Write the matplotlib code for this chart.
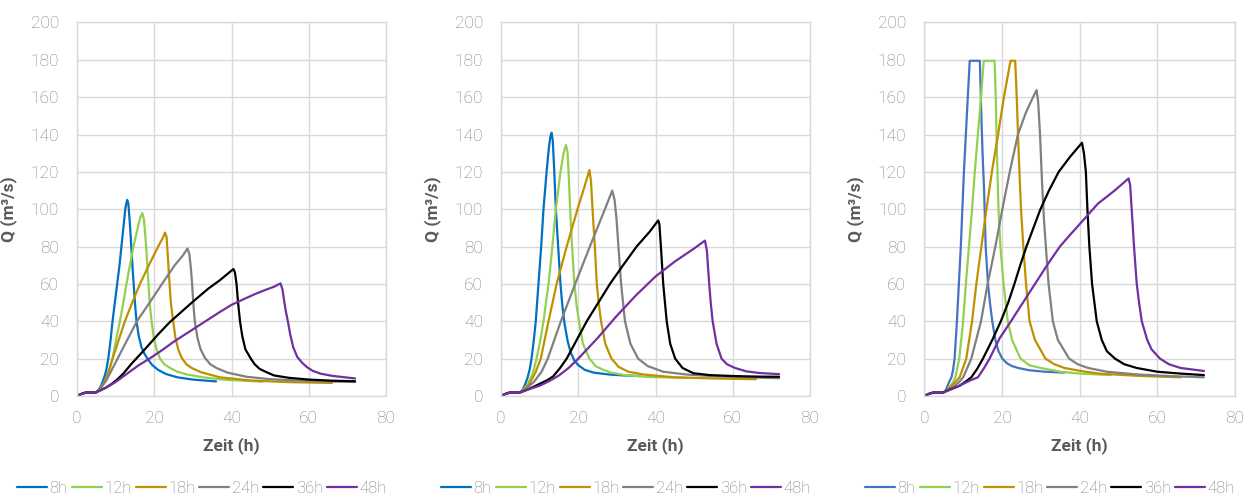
import matplotlib
matplotlib.use("Agg")
import matplotlib.pyplot as plt

# ---------------- data ----------------
series_names = ["8h", "12h", "18h", "24h", "36h", "48h"]
x_ticks = [0, 20, 40, 60, 80]
y_ticks = [0, 20, 40, 60, 80, 100, 120, 140, 160, 180, 200]

# Panel 1
p1_t_8h = [0, 1, 2.2, 4.8, 5.5, 6.2, 6.7, 7.2, 7.6, 8.1, 8.7, 9.2, 9.8, 10.4, 11.0, 11.5, 12.0, 12.5, 12.8, 13.0, 13.3, 13.7, 14.05, 14.5, 15.0, 15.4, 16.0, 16.7, 17.5, 18.4, 19.5, 21, 23, 26, 30, 36]
p1_q_8h = [0, 1, 1.8, 1.8, 3, 5.5, 8, 11, 14, 20, 30, 40, 50, 60, 70, 80, 90, 100, 103.5, 105, 103, 92, 80, 65, 50, 40, 32, 26, 22.5, 19.5, 16.5, 14, 11.8, 10, 8.8, 7.8]
p1_t_12h = [0, 1, 2.2, 4.8, 5.8, 6.7, 7.7, 8.5, 9.2, 10.1, 11.1, 12.0, 12.8, 13.7, 14.6, 15.5, 16.3, 16.9, 17.3, 17.6, 17.9, 18.2, 18.5, 18.9, 19.3, 19.9, 20.6, 21.5, 22.6, 24.1, 26, 28.5, 32.7, 38, 48]
p1_q_12h = [0, 1, 1.8, 1.8, 3.5, 6, 10, 15, 20, 30, 40, 50, 60, 70, 80, 88, 95, 98, 95, 88, 80, 70, 60, 48, 40, 31, 25, 20, 17, 15, 13, 11.5, 10, 8.7, 7.7]
p1_t_18h = [0, 1, 2.2, 4.8, 5.8, 7, 8.2, 9.2, 10.8, 12.4, 14.3, 16.3, 18.6, 21.0, 22.3, 22.8, 23.2, 23.6, 23.9, 24.3, 24.9, 25.5, 26.2, 27.1, 28.3, 29.7, 32, 37, 45, 55, 66]
p1_q_18h = [0, 1, 1.8, 1.8, 3.5, 7, 13, 20, 30, 40, 50, 60, 70, 80, 85, 87.5, 85, 72, 62, 50, 40, 31, 25, 20.5, 17, 15, 12.8, 10, 8.3, 7.4, 7]
p1_t_24h = [0, 1, 2.2, 4.8, 6, 7.5, 9, 10.5, 13, 15.5, 18.8, 22, 25.3, 27.5, 28.6, 29.1, 29.5, 29.8, 30.1, 30.5, 31.2, 32.0, 33.1, 34.5, 36.1, 39, 43.9, 50, 60, 72]
p1_q_24h = [0, 1, 1.8, 1.8, 4, 8, 14, 20, 30, 40, 50, 60, 70, 75.5, 79, 76, 68, 60, 50, 40, 31, 25, 20.5, 17, 15, 12.5, 10.3, 9, 8, 7.5]
p1_t_36h = [0, 1, 2.2, 4.8, 6, 7.5, 9, 10.5, 12, 14, 16, 18, 21, 24, 27, 30, 34, 37, 40.5, 40.9, 41.3, 41.7, 42.2, 42.8, 43.6, 45.0, 46.0, 47.3, 48.8, 51, 55, 60, 66, 72]
p1_q_36h = [0, 1, 1.8, 1.8, 3, 4.5, 6.5, 9, 12, 17, 21.5, 26, 33, 39.5, 45, 50.5, 57.5, 62, 68, 66, 60, 50, 40, 32, 25, 20, 17, 14.5, 13, 11, 9.7, 8.8, 8.2, 7.9]
p1_t_48h = [0, 1, 2.2, 4.8, 6, 8, 10, 12, 14, 16, 18.9, 22, 25, 28, 31, 34, 37, 40, 43, 46, 49, 51, 52.7, 53.2, 53.7, 54.1, 54.6, 55.2, 56, 57, 58.2, 59.5, 61, 63, 66, 72]
p1_q_48h = [0, 1, 1.8, 1.8, 3, 5, 7.5, 10.5, 13.5, 16.5, 20.2, 24.5, 29, 33, 37, 41, 45, 48.8, 51.7, 54.5, 57, 58.5, 60.3, 57, 50, 45, 40, 33, 26, 21, 18, 15.5, 13.5, 12, 10.8, 9.4]

# Panel 2
p2_t_8h = [0, 1, 2.2, 4.8, 5.5, 6.2, 6.9, 7.4, 7.9, 8.5, 9.0, 9.7, 10.4, 11.0, 11.8, 12.4, 12.8, 13.1, 13.4, 13.8, 14.2, 14.8, 15.4, 15.9, 16.5, 17.3, 18.1, 19, 20, 21.7, 24, 28, 32, 36]
p2_q_8h = [0, 1, 1.8, 1.8, 3, 6, 10, 14, 20, 30, 40, 60, 80, 100, 120, 133, 139, 141, 137, 120, 100, 80, 60, 48, 38, 29, 23, 19, 16.5, 14, 12.5, 11.5, 11, 10.7]
p2_t_12h = [0, 1, 2.2, 4.8, 5.8, 6.8, 8.0, 8.6, 9.2, 10.2, 11.0, 12.3, 13.3, 14.2, 15.4, 16.2, 16.8, 17.2, 17.5, 17.9, 18.4, 19.0, 19.6, 20.2, 21.2, 22.9, 24.5, 26.5, 28.5, 32, 38, 48]
p2_q_12h = [0, 1, 1.8, 1.8, 3.5, 6, 11, 15, 20, 30, 40, 60, 80, 100, 120, 130, 134.4, 131, 120, 100, 80, 60, 48, 40, 28, 20, 16, 14, 12.5, 11.2, 10.2, 9.7]
p2_t_18h = [0, 1, 2.2, 4.8, 6, 7.5, 9, 10.3, 11.3, 12.3, 14.4, 17.0, 19.8, 21.6, 22.9, 23.3, 23.7, 24.3, 24.8, 25.4, 25.9, 27, 28.6, 30.5, 33, 37, 45, 55, 66]
p2_q_18h = [0, 1, 1.8, 1.8, 3.5, 7, 13, 20, 30, 40, 60, 80, 100, 112, 121, 115, 100, 80, 60, 48, 40, 28, 20, 15.5, 13, 11.5, 10, 9.4, 9]
p2_t_24h = [0, 1, 2.2, 4.8, 6.5, 8.5, 10.5, 12.1, 13.8, 15.5, 19.2, 23.0, 26.9, 28.8, 29.4, 29.9, 30.4, 31.1, 32.1, 33.5, 35.5, 38, 42, 48, 56, 64, 72]
p2_q_24h = [0, 1, 1.8, 1.8, 4, 7.5, 13, 20, 30, 40, 60, 80, 100, 110, 105, 95, 80, 60, 40, 28, 20, 16, 13, 11.5, 10.5, 10, 9.5]
p2_t_36h = [0, 1, 2.2, 4.8, 7, 10, 12, 13.5, 15.3, 17.0, 19.6, 22.2, 25.2, 28.2, 31.6, 35.1, 38.5, 40.7, 41.0, 41.4, 42.0, 42.9, 43.8, 45.1, 47, 49.8, 54, 60, 66, 72]
p2_q_36h = [0, 1, 1.8, 1.8, 3.5, 6.5, 8.5, 10.5, 15, 20, 30, 40, 50, 60, 70, 80, 88, 94, 92, 80, 60, 40, 28, 20, 15, 12.2, 11.2, 10.7, 10.4, 10.3]
p2_t_48h = [0, 1, 2.2, 4.8, 7, 10, 12.5, 15, 17.5, 20, 22.5, 25, 27.5, 30, 32.5, 35, 37.5, 40, 42.5, 45, 47.5, 50, 52.8, 53.3, 53.9, 54.3, 54.8, 55.8, 57.1, 58.5, 60.6, 63.5, 67, 72]
p2_q_48h = [0, 1, 1.8, 1.8, 3.5, 5.5, 8, 11, 15, 20, 25.5, 31, 37, 43, 48.5, 54, 59, 64, 68, 72, 75.5, 79, 83.2, 78, 60, 50, 40, 28, 20, 17, 15, 13.2, 12.3, 11.7]

# Panel 3
p3_t_8h = [0, 1, 2.2, 4.8, 5.5, 5.9, 6.5, 7.0, 7.4, 7.8, 8.4, 8.9, 9.4, 9.8, 10.2, 10.7, 11.2, 11.7, 14.3, 14.5, 14.7, 15.0, 15.4, 15.8, 16.4, 16.9, 17.5, 18.3, 19.1, 20.1, 21.3, 22.6, 24.2, 27, 31, 36]
p3_q_8h = [0, 1, 1.8, 1.8, 3, 5, 8, 10, 14, 20, 40, 60, 80, 100, 120, 140, 160, 179.5, 179.5, 165, 150, 130, 110, 80, 60, 50, 40, 30, 24, 20, 17.5, 16, 15, 13.8, 13, 12.5]
p3_t_12h = [0, 1, 2.2, 4.8, 5.8, 6.6, 7.3, 8.0, 9.0, 10.0, 10.7, 11.5, 12.3, 13.0, 13.8, 14.6, 15.3, 18.1, 18.4, 18.7, 19.1, 19.6, 20.4, 21.5, 22.6, 24.8, 27, 30, 35, 40, 48]
p3_q_12h = [0, 1, 1.8, 1.8, 3, 5, 7, 10, 20, 40, 60, 80, 100, 120, 140, 160, 179.5, 179.5, 160, 130, 100, 80, 60, 40, 30, 20, 16.5, 15, 13, 12, 11.2]
p3_t_18h = [0, 1, 2.2, 4.8, 5.8, 7, 8, 9.1, 10.8, 12.3, 13.4, 14.7, 16.0, 17.4, 19.0, 20.5, 22.2, 23.4, 23.8, 24.3, 24.9, 25.5, 26.2, 27.1, 28.5, 31.2, 33.5, 36.1, 40, 45, 55, 66]
p3_q_18h = [0, 1, 1.8, 1.8, 3, 5.5, 7.5, 10, 20, 40, 60, 80, 100, 120, 140, 160, 179.5, 179.5, 160, 130, 100, 80, 60, 40, 30, 20, 17, 15, 13.5, 12, 10.8, 10]
p3_t_24h = [0, 1, 2.2, 4.8, 6, 7.5, 9, 10, 12.1, 14.6, 16.3, 18.3, 20.1, 22.0, 24.1, 26.2, 28.0, 28.9, 29.3, 29.8, 30.3, 30.8, 31.3, 32.0, 33.1, 34.4, 37.3, 39.5, 42.2, 47, 55, 63, 72]
p3_q_24h = [0, 1, 1.8, 1.8, 3, 5, 7.5, 10, 20, 40, 60, 80, 100, 120, 140, 152, 160, 163.8, 158, 140, 115, 95, 80, 60, 40, 30, 20, 17, 15, 13, 11.5, 10.7, 10]
p3_t_36h = [0, 1, 2.2, 4.8, 6, 7.5, 9.1, 10.5, 12.1, 13.6, 15.1, 17.5, 19.7, 21.6, 23.2, 24.7, 26.3, 28.1, 29.9, 32.1, 34.6, 37.5, 40.6, 41.1, 41.6, 42.0, 42.5, 43.2, 44.4, 45.7, 47, 49.1, 51.5, 54.7, 60, 66, 72]
p3_q_36h = [0, 1, 1.8, 1.8, 3, 4.2, 5.5, 7.5, 10, 14.5, 20, 30, 40, 50, 60, 70, 80, 90, 100, 110, 120, 128, 135.6, 130, 120, 100, 80, 60, 40, 30, 24, 20, 17, 15, 13, 12, 11.2]
p3_t_48h = [0, 1, 2.2, 4.8, 6, 8, 10, 12, 13.8, 15.4, 16.8, 19.4, 22.3, 25.4, 28.5, 31.6, 34.9, 37.4, 40, 44.7, 49, 52.6, 53.0, 53.4, 54.0, 54.7, 55.3, 56.0, 57.4, 58.5, 60.7, 63, 66, 72]
p3_q_48h = [0, 1, 1.8, 1.8, 2.8, 4.5, 6.5, 8.5, 10, 15, 20, 30.9, 40, 50, 60, 70, 80, 86, 92, 103, 110, 116.5, 113, 100, 80, 60, 50, 40, 30, 25, 20, 17, 15, 13.4]

panels = [
    [(p1_t_8h, p1_q_8h), (p1_t_12h, p1_q_12h), (p1_t_18h, p1_q_18h),
     (p1_t_24h, p1_q_24h), (p1_t_36h, p1_q_36h), (p1_t_48h, p1_q_48h)],
    [(p2_t_8h, p2_q_8h), (p2_t_12h, p2_q_12h), (p2_t_18h, p2_q_18h),
     (p2_t_24h, p2_q_24h), (p2_t_36h, p2_q_36h), (p2_t_48h, p2_q_48h)],
    [(p3_t_8h, p3_q_8h), (p3_t_12h, p3_q_12h), (p3_t_18h, p3_q_18h),
     (p3_t_24h, p3_q_24h), (p3_t_36h, p3_q_36h), (p3_t_48h, p3_q_48h)],
]

colors_12 = ["#0070C0", "#92D050", "#BF9000", "#808080", "#000000", "#7030A0"]
colors_3 = ["#4472C4", "#92D050", "#BF9000", "#808080", "#000000", "#7030A0"]
panel_colors = [colors_12, colors_12, colors_3]

# ---------------- layout ----------------
W, H = 1252, 498
fig = plt.figure(figsize=(W / 100, H / 100), dpi=100)
fig.patch.set_facecolor("white")

axes_px = [(77, 386), (501, 810), (924.3, 1235)]
legend_cx = [202, 626, 1050]
y0_px, y1_px = 396, 22.5

fam = ["Roboto", "DejaVu Sans"]
grid_c = "#D9D9D9"
tick_c = "#7F7F7F"
label_c = "#595959"

for i, (xl, xr) in enumerate(axes_px):
    ax = fig.add_axes([xl / W, 1 - y0_px / H, (xr - xl) / W, (y0_px - y1_px) / H])
    for (t, q), c, name in zip(panels[i], panel_colors[i], series_names):
        ax.plot(t, q, color=c, lw=1.6, label=name,
                solid_joinstyle="round", solid_capstyle="round")
    ax.set_xlim(0, 80)
    ax.set_ylim(0, 200)
    ax.set_xticks(x_ticks)
    ax.set_yticks(y_ticks)
    ax.grid(True, color=grid_c, lw=1.0)
    ax.set_axisbelow(True)
    for s in ax.spines.values():
        s.set_color(grid_c)
        s.set_linewidth(1.0)
    ax.tick_params(length=0, colors=tick_c)
    ax.tick_params(axis="y", pad=13)
    ax.tick_params(axis="x", pad=11)
    for lab in ax.get_xticklabels() + ax.get_yticklabels():
        lab.set_fontfamily(fam)
        lab.set_fontsize(12.5)
        lab.set_fontweight("light")
    ax.set_xlabel("Zeit (h)", color=label_c, labelpad=8,
                  family=fam, size=12.5, weight="bold")
    ax.set_ylabel("Q (m³/s)", color=label_c, labelpad=10,
                  family=fam, size=12.5, weight="bold")

    ax.legend(loc="center", bbox_to_anchor=(legend_cx[i] / W, 1 - 488 / H),
              bbox_transform=fig.transFigure, ncol=6, frameon=False,
              handlelength=1.8, handletextpad=0.15, columnspacing=0.25,
              borderpad=0.2,
              prop=dict(family=fam, size=12, weight="light"),
              labelcolor=tick_c)

fig.savefig("out.png", dpi=100, facecolor="white")
